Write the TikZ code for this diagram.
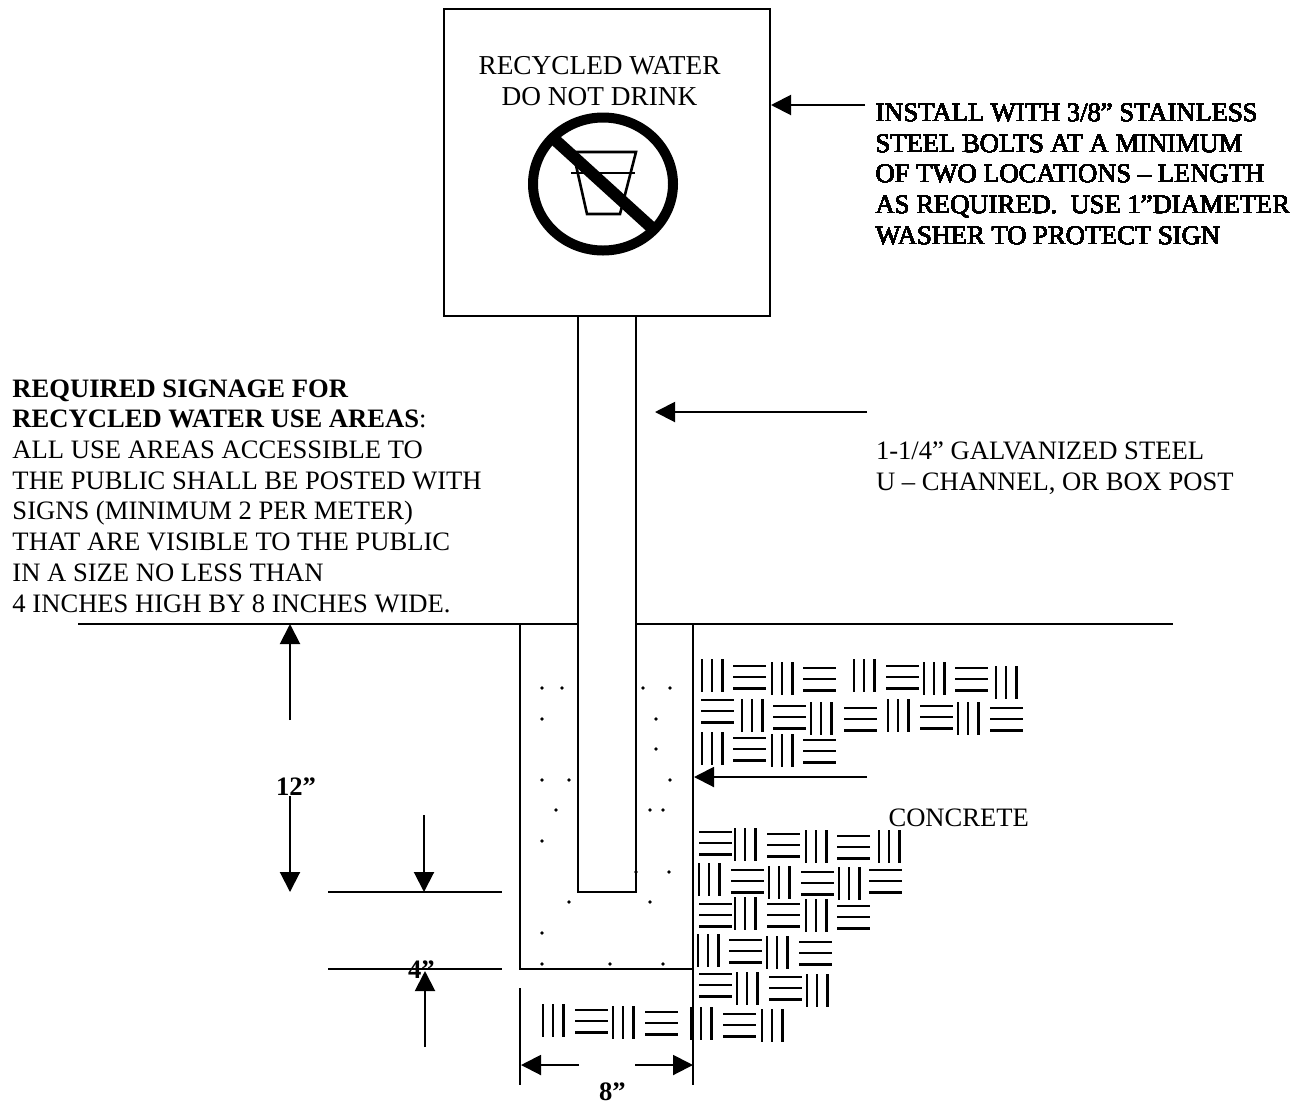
\documentclass[tikz,border=0pt]{standalone}
\usepackage{fontspec}
\setmainfont{Liberation Serif}
\usetikzlibrary{arrows.meta}

\tikzset{
  every picture/.style={x=1pt,y=-1pt,line width=2pt},
  >={Triangle[length=20pt,width=20pt]},
  txt/.style={inner sep=0pt,anchor=base west,align=left,font=\fontsize{26.6}{30.7}\selectfont},
  dimtxt/.style={txt,font=\fontsize{26.6}{30.7}\selectfont\bfseries},
  hatch/.style={line width=2.2pt},
  seed/.style={fill,circle,inner sep=0pt,minimum size=3.6pt}
}
\newcommand{\vbars}[2]{\draw[hatch] (#1,#2) -- +(0,33) (#1+10,#2) -- +(0,33) (#1+20.5,#2) -- +(0,33);}
\newcommand{\hbars}[2]{\draw[hatch] (#1,#2) -- +(33,0) (#1,#2+11) -- +(33,0) (#1,#2+22.5) -- +(33,0);}

\begin{document}
\begin{tikzpicture}
\useasboundingbox (0,0) rectangle (1301,1104);
% sign
\node[draw,minimum width=326pt,minimum height=307pt,inner sep=0pt] (sign) at (607,162.5) {};
\node[txt,anchor=base,align=center,font=\fontsize{27.3}{30.7}\selectfont] (signtxt) at (599.5,105.5) {RECYCLED WATER\\DO NOT DRINK};
\draw[line width=10pt] (603,184) ellipse [x radius=70,y radius=66.5];
\draw[line width=2.6pt] (573,152) -- (636,152) -- (620,214) -- (587,214) -- cycle;
\draw[line width=2.2pt] (571,173) -- (635,173);
\draw[line width=12pt] (553,138) -- (652,228);
% post, ground and footing
\draw (578,316) -- (578,892) -- (636,892) -- (636,316);
\draw (78,624) -- (578,624) (636,624) -- (1173,624);
\draw (520,624) -- (520,969) -- (693,969) (693,624) -- (693,1085);
\draw (520,988) -- (520,1085);
\draw (328,892) -- (502,892) (328,969) -- (502,969);
% seeds in the concrete
\foreach \x/\y in {542/688,562/688,643/688,670/688,542/719,656/719,656/749,
  542/780,569/780,670/780,556/810,650/810,663/810,542/841,636/872,669/872,
  569/902,650/902,542/933,542/964,610/964,663/964}
  \node[seed] (s\x-\y) at (\x,\y) {};
% soil hatching
\foreach \x/\y in {702/659,772/662,854/659,924/662,996/666,
  742/699,811/702,888/699,958/702,
  702/732,772/734,
  735/828,806/830,879/830,
  699/863,769/866,839/867,
  735/897,806/899,
  698/934,767/936,
  737/972,807/974,
  543/1004,613/1006,691/1007,762/1009}
  \vbars{\x}{\y}
\foreach \x/\y in {733/666,803/668,886/666,955/668,
  701/700,773/706,844/708,920/706,990/708,
  733/738,803/740,
  699/832,767/834,837/836,
  731/870,801/872,869/870,
  699/904,767/904,837/906,
  729/940,799/942,
  699/974,769/977,
  575/1010,645/1012,723/1014}
  \hbars{\x}{\y}
% labels
\node[txt] (bolts) at (874.6,244.3) {INSTALL WITH 3/8” STAINLESS\\STEEL BOLTS AT A MINIMUM\\OF TWO LOCATIONS – LENGTH\\AS REQUIRED.\ \ USE 1”DIAMETER\\WASHER TO PROTECT SIGN};
\node[txt] (postlbl) at (875,490) {1-1/4” GALVANIZED STEEL\\U – CHANNEL, OR BOX POST};
\node[txt] (req) at (11.5,612) {\textbf{REQUIRED SIGNAGE FOR}\\\textbf{RECYCLED WATER USE AREAS}:\\ALL USE AREAS ACCESSIBLE TO\\THE PUBLIC SHALL BE POSTED WITH\\SIGNS (MINIMUM 2 PER METER)\\THAT ARE VISIBLE TO THE PUBLIC\\IN A SIZE NO LESS THAN\\4 INCHES HIGH BY 8 INCHES WIDE.};
\node[txt] (conc) at (887.5,826) {CONCRETE};
\node[dimtxt] (d12) at (275,795) {12”};
\node[dimtxt] (d4) at (407,978) {4”};
\node[dimtxt] (d8) at (598,1100) {8”};
% arrows
\coordinate (a1) at (865,105); \coordinate (b1) at (771,105);
\coordinate (a2) at (867,412); \coordinate (b2) at (655,412);
\coordinate (a3) at (867,777); \coordinate (b3) at (694,777);
\coordinate (a4) at (290,720); \coordinate (b4) at (290,624);
\coordinate (a5) at (290,796); \coordinate (b5) at (290,892);
\coordinate (a6) at (424,815); \coordinate (b6) at (424,892);
\coordinate (a7) at (425,1047); \coordinate (b7) at (425,971);
\coordinate (a8) at (579,1065); \coordinate (b8) at (521,1065);
\coordinate (a9) at (635,1065); \coordinate (b9) at (693,1065);
\foreach \i in {1,...,9}
  \draw[->] (a\i) -- (b\i);
\end{tikzpicture}
\end{document}
